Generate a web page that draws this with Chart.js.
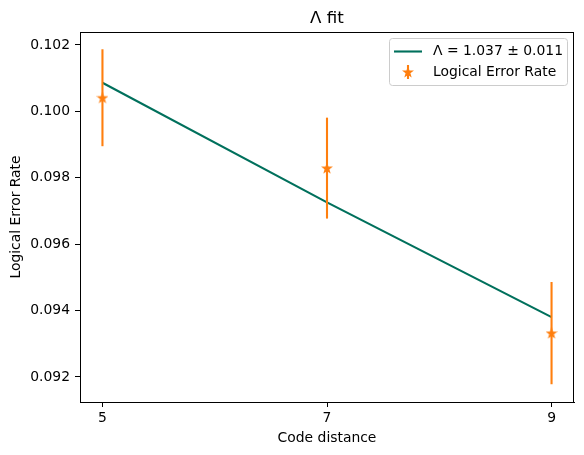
<!DOCTYPE html>
<html>
<head>
<meta charset="utf-8">
<script src="https://cdn.jsdelivr.net/npm/chart.js@4.4.1/dist/chart.umd.min.js"></script>
<style>
  html, body { margin: 0; padding: 0; background: #fff; }
  #wrap { width: 584px; height: 455px; }
</style>
</head>
<body>
<div id="wrap"><canvas id="c" width="584" height="455"></canvas></div>
<script>
const chartTitle = 'Λ fit';
const xAxisTitle = 'Code distance';
const yAxisTitle = 'Logical Error Rate';
const fitLabel = 'Λ = 1.037 ± 0.011';
const dataLabel = 'Logical Error Rate';

const distances = [5, 7, 9];
const errorRates = [0.10041, 0.09829, 0.09332];
const errorBars = [0.00146, 0.00152, 0.00154];
const fitValues = [0.10086, 0.09726, 0.09380];

const xTickValues = [5, 7, 9];
const yTickValues = [0.092, 0.094, 0.096, 0.098, 0.100, 0.102];

const xRange = [4.8, 9.2];
const yRange = [0.091245, 0.10239];

const GREEN = '#00705c';
const ORANGE = '#ff7f0e';
const FONT = "'DejaVu Sans', sans-serif";

function makeStar(r) {
  const size = 12;
  const cv = document.createElement('canvas');
  cv.width = size; cv.height = size;
  const g = cv.getContext('2d');
  const cx = size / 2, cy = size / 2 + 0.4;
  g.beginPath();
  for (let i = 0; i < 10; i++) {
    const rad = i % 2 === 0 ? r : r * 0.4;
    const a = -Math.PI / 2 + i * Math.PI / 5;
    const px = cx + rad * Math.cos(a), py = cy + rad * Math.sin(a);
    if (i === 0) g.moveTo(px, py); else g.lineTo(px, py);
  }
  g.closePath();
  g.fillStyle = ORANGE;
  g.fill();
  g.lineWidth = 1.3;
  g.lineJoin = 'miter';
  g.strokeStyle = ORANGE;
  g.stroke();
  return cv;
}
const starImg = makeStar(4.3);

const fitData = distances.map((d, i) => ({ x: d, y: fitValues[i] }));
const pointData = distances.map((d, i) => ({ x: d, y: errorRates[i] }));

const errorBarPlugin = {
  id: 'errorBars',
  beforeDatasetDraw(chart, args) {
    if (args.index !== 1) return;
    const xs = chart.scales.x, ys = chart.scales.y;
    const ctx = chart.ctx;
    ctx.save();
    ctx.strokeStyle = ORANGE;
    ctx.lineWidth = 2.1;
    distances.forEach((d, i) => {
      const px = xs.getPixelForValue(d);
      ctx.beginPath();
      ctx.moveTo(px, ys.getPixelForValue(errorRates[i] - errorBars[i]));
      ctx.lineTo(px, ys.getPixelForValue(errorRates[i] + errorBars[i]));
      ctx.stroke();
    });
    ctx.restore();
  }
};

const framePlugin = {
  id: 'frame',
  afterDraw(chart) {
    const ctx = chart.ctx;
    const a = chart.chartArea;
    ctx.save();
    ctx.strokeStyle = '#000';
    ctx.lineWidth = 1;
    ctx.strokeRect(Math.round(a.left) + 0.5, Math.round(a.top) + 0.5,
                   Math.round(a.right - a.left) - 1, Math.round(a.bottom - a.top));
    ctx.fillStyle = '#000';
    ctx.font = '16.7px ' + FONT;
    ctx.textAlign = 'center';
    ctx.textBaseline = 'middle';
    ctx.fillText(chartTitle, (a.left + a.right) / 2, 19);

    const lx = 389.5, ly = 38.5, lw = 178, lh = 47, r = 3;
    ctx.beginPath();
    ctx.moveTo(lx + r, ly);
    ctx.lineTo(lx + lw - r, ly);
    ctx.arcTo(lx + lw, ly, lx + lw, ly + r, r);
    ctx.lineTo(lx + lw, ly + lh - r);
    ctx.arcTo(lx + lw, ly + lh, lx + lw - r, ly + lh, r);
    ctx.lineTo(lx + r, ly + lh);
    ctx.arcTo(lx, ly + lh, lx, ly + lh - r, r);
    ctx.lineTo(lx, ly + r);
    ctx.arcTo(lx, ly, lx + r, ly, r);
    ctx.closePath();
    ctx.fillStyle = 'rgba(255,255,255,0.8)';
    ctx.fill();
    ctx.strokeStyle = '#cccccc';
    ctx.lineWidth = 1;
    ctx.stroke();

    const ds = chart.data.datasets;
    ctx.strokeStyle = GREEN;
    ctx.lineWidth = 2.1;
    ctx.beginPath();
    ctx.moveTo(394, 51.5);
    ctx.lineTo(422, 51.5);
    ctx.stroke();
    ctx.strokeStyle = ORANGE;
    ctx.beginPath();
    ctx.moveTo(408, 65);
    ctx.lineTo(408, 79);
    ctx.stroke();
    ctx.drawImage(starImg, 408 - starImg.width / 2, 72 - starImg.height / 2);

    ctx.fillStyle = '#000';
    ctx.font = '13.9px ' + FONT;
    ctx.textAlign = 'left';
    ctx.textBaseline = 'middle';
    ctx.fillText(ds[0].label, 433, 51.5);
    ctx.fillText(ds[1].label, 433, 72);
    ctx.restore();
  }
};

new Chart(document.getElementById('c'), {
  type: 'scatter',
  data: {
    datasets: [
      {
        label: fitLabel,
        data: fitData,
        showLine: true,
        borderColor: GREEN,
        borderWidth: 2.1,
        pointRadius: 0,
        order: 2
      },
      {
        label: dataLabel,
        data: pointData,
        showLine: false,
        pointStyle: starImg,
        pointRadius: 5,
        backgroundColor: ORANGE,
        borderColor: ORANGE,
        order: 1
      }
    ]
  },
  options: {
    responsive: false,
    animation: false,
    devicePixelRatio: 1,
    layout: { padding: { top: 32, right: 10, left: 0, bottom: 0 } },
    plugins: {
      legend: { display: false },
      title: { display: false },
      tooltip: { enabled: false }
    },
    scales: {
      x: {
        type: 'linear',
        min: xRange[0],
        max: xRange[1],
        afterBuildTicks(scale) { scale.ticks = xTickValues.map(v => ({ value: v })); },
        afterFit(scale) { scale.height = 53; },
        border: { display: true, color: '#000', width: 1 },
        grid: { display: true, drawOnChartArea: false, drawTicks: true, tickLength: 5, color: '#000', tickColor: '#000' },
        ticks: { color: '#000', font: { family: FONT, size: 13.9 }, padding: 3, maxRotation: 0,
                 callback: v => String(v) },
        title: { display: true, text: xAxisTitle, color: '#000', font: { family: FONT, size: 13.9 },
                 padding: { top: 0, bottom: 8 } }
      },
      y: {
        type: 'linear',
        min: yRange[0],
        max: yRange[1],
        afterBuildTicks(scale) { scale.ticks = yTickValues.map(v => ({ value: v })); },
        afterFit(scale) { scale.width = 80; },
        border: { display: true, color: '#000', width: 1 },
        grid: { display: true, drawOnChartArea: false, drawTicks: true, tickLength: 5, color: '#000', tickColor: '#000' },
        ticks: { color: '#000', font: { family: FONT, size: 13.9 }, padding: 5,
                 callback: v => Number(v).toFixed(3) },
        title: { display: true, text: yAxisTitle, color: '#000', font: { family: FONT, size: 13.9 },
                 padding: { top: 8, bottom: 0 } }
      }
    }
  },
  plugins: [errorBarPlugin, framePlugin]
});
</script>
</body>
</html>
